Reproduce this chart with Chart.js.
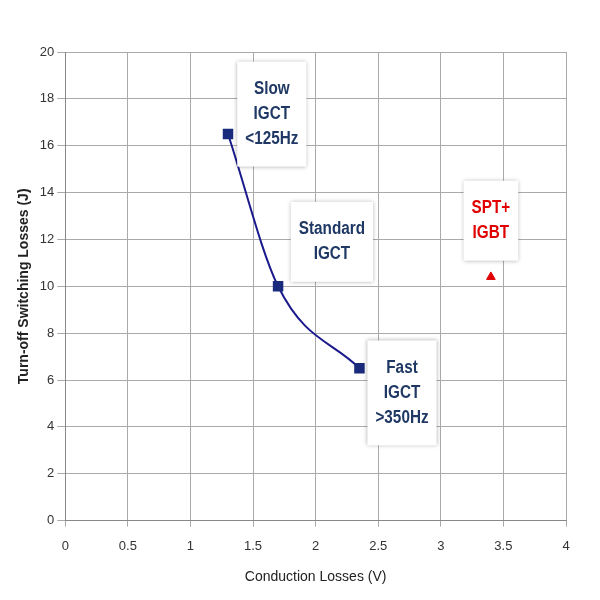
<!DOCTYPE html>
<html><head><script src="https://cdn.jsdelivr.net/npm/chart.js"></script>
<style>body{margin:0;background:#fff}#w{width:600px;height:600px}</style></head>
<body><div id="w"><canvas id="c"></canvas></div>
<script>
const xVals=[1.3,1.7,2.35];
const yVals=[16.5,10,6.5];
const igbtPoint=[{x:3.4,y:10.4}];
const labels=[
 {lines:['Slow','IGCT','<125Hz'],x:1.65,y:17.35,color:'#1f3864'},
 {lines:['Standard','IGCT'],x:2.13,y:11.9,color:'#1f3864'},
 {lines:['Fast','IGCT','>350Hz'],x:2.69,y:5.45,color:'#1f3864'},
 {lines:['SPT+','IGBT'],x:3.4,y:12.8,color:'#e00000'}
];
const SX=0.85;
const boxPlugin={id:'boxes',afterDatasetsDraw(ch){
 const {ctx,scales:{x,y}}=ch;ctx.save();
 ctx.font='bold 18px Arial';ctx.textAlign='center';ctx.textBaseline='middle';
 labels.forEach(l=>{const cx=x.getPixelForValue(l.x),cy=y.getPixelForValue(l.y);
  const w=Math.max(...l.lines.map(s=>ctx.measureText(s).width))*SX+16,h=l.lines.length*25+30;
  ctx.shadowColor='rgba(0,0,0,0.3)';ctx.shadowBlur=4;ctx.fillStyle='#fff';
  ctx.fillRect(cx-w/2,cy-h/2,w,h);ctx.shadowBlur=0;
  ctx.fillStyle=l.color;
  l.lines.forEach((s,i)=>{ctx.save();ctx.translate(cx,cy-(l.lines.length-1)*12.5+i*25);ctx.scale(SX,1);ctx.fillText(s,0,0);ctx.restore();});});
 ctx.restore();}};
new Chart(document.getElementById('c'),{type:'scatter',
 data:{datasets:[
  {data:xVals.map((v,i)=>({x:v,y:yVals[i]})),showLine:true,tension:0.45,cubicInterpolationMode:'monotone',borderColor:'#1a1a8c',borderWidth:2,pointStyle:'rect',pointRadius:6,backgroundColor:'#1a2a7c',pointBorderColor:'#1a2a7c'},
  {data:igbtPoint,pointStyle:'triangle',pointRadius:5,backgroundColor:'#e00000',borderColor:'#e00000'}]},
 options:{responsive:true,maintainAspectRatio:false,animation:false,
  layout:{padding:{left:12,right:34,top:52,bottom:10}},
  plugins:{legend:{display:false},tooltip:{enabled:false}},
  scales:{
   x:{min:0,max:4,ticks:{stepSize:0.5,padding:12,color:'#333',font:{size:13,family:'Arial'},callback:v=>String(+v)},grid:{color:'#aaa',tickLength:6},border:{color:'#888'},
      title:{display:true,padding:{top:3},text:'Conduction Losses (V)',color:'#222',font:{size:14,family:'Arial'}}},
   y:{min:0,max:20,ticks:{stepSize:2,color:'#333',font:{size:13,family:'Arial'}},grid:{color:'#aaa'},border:{color:'#888'},
      title:{display:true,text:'Turn-off Switching Losses (J)',color:'#222',font:{size:14,family:'Arial',weight:'bold'}}}}},
 plugins:[boxPlugin]});
</script></body></html>
